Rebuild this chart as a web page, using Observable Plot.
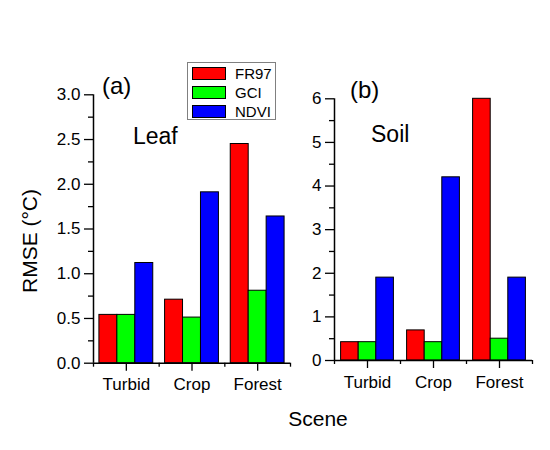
<!DOCTYPE html>
<html>
<head>
<meta charset="utf-8">
<script src="https://cdn.jsdelivr.net/npm/d3@7"></script>
<script src="https://cdn.jsdelivr.net/npm/@observablehq/plot@0.6"></script>
<style>
  html, body { margin: 0; padding: 0; background: #fff; }
  #chart { position: relative; width: 550px; height: 450px; background: #fff; overflow: hidden;
           font-family: "Liberation Sans", Arial, sans-serif; color: #000; }
  #chart > svg, #chart > div { position: absolute; }
</style>
</head>
<body>
<div id="chart"></div>
<script>
// ---- data ----
const scenes = ["Turbid", "Crop", "Forest"];
const series = ["FR97", "GCI", "NDVI"];
const seriesColors = ["#ff0000", "#00ff00", "#0000ff"];

const leafFR97 = [0.54, 0.71, 2.45];
const leafGCI  = [0.54, 0.51, 0.81];
const leafNDVI = [1.12, 1.91, 1.64];

const soilFR97 = [0.42, 0.69, 6.0];
const soilGCI  = [0.42, 0.42, 0.50];
const soilNDVI = [1.90, 4.20, 1.90];

const leafTicks = [0, 0.5, 1.0, 1.5, 2.0, 2.5, 3.0];
const soilTicks = [0, 1, 2, 3, 4, 5, 6];

const panelLabels = ["(a)", "(b)"];
const panelNames = ["Leaf", "Soil"];
const yTitle = "RMSE (°C)";
const xTitle = "Scene";

// ---- helpers ----
function buildRows(values, pad) {
  const w = (1 - 2 * pad) / series.length;
  const rows = [];
  scenes.forEach((scene, i) => {
    series.forEach((s, j) => {
      rows.push({scene, series: s, value: values[j][i], x1: i + pad + j * w, x2: i + pad + (j + 1) * w});
    });
  });
  return rows;
}

function minorOf(ticks) {
  const m = [];
  for (let k = 0; k < ticks.length - 1; k++) m.push((ticks[k] + ticks[k + 1]) / 2);
  return m;
}

function panel(opts) {
  const {rows, ticks, fmt, width, height, marginLeft, marginRight, marginTop, marginBottom} = opts;
  const centers = scenes.map((d, i) => i + 0.5);
  const bounds = d3.range(scenes.length + 1);
  return Plot.plot({
    width, height, marginLeft, marginRight, marginTop, marginBottom,
    style: {fontFamily: "'Liberation Sans', Arial, sans-serif", fontSize: "17px", color: "#000", background: "transparent", overflow: "visible"},
    x: {domain: [0, scenes.length]},
    y: {domain: [ticks[0], ticks[ticks.length - 1]]},
    color: {domain: series, range: seriesColors},
    marks: [
      Plot.rect(rows, {x1: "x1", x2: "x2", y1: 0, y2: "value", fill: "series", stroke: "#000", strokeWidth: 1}),
      Plot.axisY({ticks, tickFormat: fmt, tickSize: 9, tickPadding: 4, strokeWidth: 1.3, label: null, fontSize: 17}),
      Plot.axisY({ticks: minorOf(ticks), tickFormat: () => "", tickSize: 5, strokeWidth: 1.3, label: null}),
      Plot.axisX({ticks: centers, tickFormat: v => scenes[Math.floor(v)], tickSize: 8, tickPadding: 7, strokeWidth: 1.3, label: null, fontSize: 17}),
      Plot.axisX({ticks: bounds, tickFormat: () => "", tickSize: 4, strokeWidth: 1.3, label: null}),
      Plot.ruleX([0], {stroke: "#000", strokeWidth: 1.5}),
      Plot.ruleY([0], {stroke: "#000", strokeWidth: 1.5})
    ]
  });
}

const chart = document.getElementById("chart");

const left = panel({
  rows: buildRows([leafFR97, leafGCI, leafNDVI], 0.09),
  ticks: leafTicks, fmt: d3.format(".1f"),
  width: 300, height: 400, marginLeft: 93, marginRight: 10, marginTop: 94.3, marginBottom: 37.3
});
left.style.left = "0px"; left.style.top = "0px";
chart.appendChild(left);

const right = panel({
  rows: buildRows([soilFR97, soilGCI, soilNDVI], 0.1),
  ticks: soilTicks, fmt: d3.format("d"),
  width: 260, height: 400, marginLeft: 44, marginRight: 18, marginTop: 98.3, marginBottom: 40
});
right.style.left = "290px"; right.style.top = "0px";
chart.appendChild(right);

// ---- annotation overlay ----
const svg = d3.select(chart).append("svg")
  .attr("width", 550).attr("height", 450)
  .style("left", "0px").style("top", "0px").style("pointer-events", "none")
  .style("font-family", "'Liberation Sans', Arial, sans-serif");

const ann = [
  {t: panelLabels[0], x: 102, y: 94, size: 24},
  {t: panelLabels[1], x: 350, y: 98, size: 24},
  {t: panelNames[0], x: 133, y: 144, size: 23},
  {t: panelNames[1], x: 371, y: 142, size: 23}
];
svg.selectAll("text.ann").data(ann).join("text").attr("class", "ann")
  .attr("x", d => d.x).attr("y", d => d.y).attr("font-size", d => d.size).attr("fill", "#000").text(d => d.t);

svg.append("text").attr("x", 318).attr("y", 426).attr("text-anchor", "middle")
  .attr("font-size", 21).attr("fill", "#000").text(xTitle);

svg.append("text").attr("transform", "translate(37,241) rotate(-90)").attr("text-anchor", "middle")
  .attr("font-size", 21).attr("fill", "#000").text(yTitle);

// ---- legend ----
const legend = d3.select(chart).append("div")
  .style("left", "187px").style("top", "62px").style("width", "87px").style("height", "56px")
  .style("border", "1px solid #808080").style("background", "#fff");
series.forEach((s, j) => {
  legend.append("div").style("position", "absolute")
    .style("left", "4px").style("top", (4 + j * 19) + "px")
    .style("width", "32px").style("height", "11px")
    .style("background", seriesColors[j]).style("border", "1px solid #000");
  legend.append("div").style("position", "absolute")
    .style("left", "47px").style("top", (2 + j * 19) + "px")
    .style("font-size", "15px").style("line-height", "17px").text(s);
});
</script>
</body>
</html>
